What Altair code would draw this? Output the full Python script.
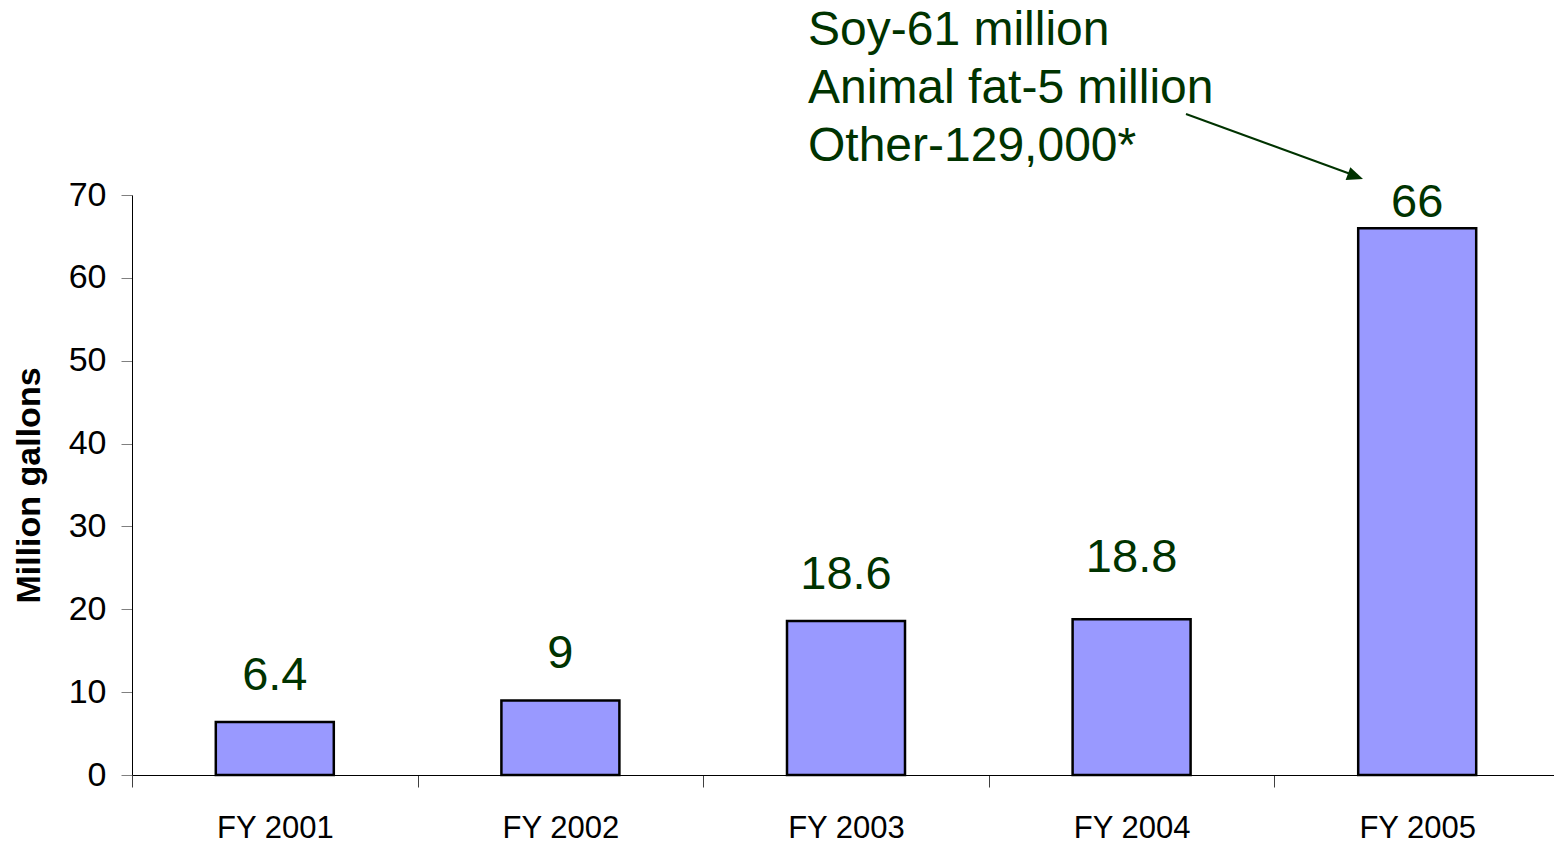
import altair as alt
import pandas as pd

years = ["FY 2001", "FY 2002", "FY 2003", "FY 2004", "FY 2005"]
gallons = [6.4, 9, 18.6, 18.8, 66]
value_labels = ["6.4", "9", "18.6", "18.8", "66"]
y_ticks = [0, 10, 20, 30, 40, 50, 60, 70]
note_lines = ["Soy-61 million", "Animal fat-5 million", "Other-129,000*"]

df = pd.DataFrame({"year": years, "gallons": gallons, "label": value_labels})

GREEN = "#003300"
FONT = "Liberation Sans"

x_enc = alt.X(
    "year:N",
    sort=years,
    scale=alt.Scale(range=[0, 1428], paddingInner=0, paddingOuter=0),
    axis=alt.Axis(
        title=None,
        labelFont=FONT,
        labelFontSize=31,
        labelColor="#000000",
        labelPadding=26,
        labelAngle=0,
        tickBand="extent",
        tickSize=12,
        tickColor="#404040",
        domainColor="#000000",
        grid=False,
    ),
)

y_enc = alt.Y(
    "gallons:Q",
    scale=alt.Scale(domain=[0, 70], nice=False),
    axis=alt.Axis(
        title="Million gallons",
        titleFont=FONT,
        titleFontSize=34,
        titleFontWeight="bold",
        titleColor="#000000",
        titlePadding=22,
        values=y_ticks,
        labelFont=FONT,
        labelFontSize=34,
        labelColor="#000000",
        labelPadding=15,
        tickSize=11,
        tickColor="#808080",
        domainColor="#000000",
        grid=False,
    ),
)

bars = alt.Chart(df).mark_bar(
    color="#9999FF", stroke="#000000", strokeWidth=2.5, size=118
).encode(x=x_enc, y=y_enc)


def label_layer(cond, dy):
    return alt.Chart(df).transform_filter(cond).mark_text(
        font=FONT, fontSize=47, color=GREEN, baseline="alphabetic",
        align="center", dy=dy,
    ).encode(
        x=alt.X("year:N", sort=years),
        y=alt.Y("gallons:Q"),
        text="label:N",
    )


labels_main = label_layer("datum.year != 'FY 2004' && datum.year != 'FY 2005'", -32)
labels_2004 = label_layer("datum.year == 'FY 2004'", -47)
labels_2005 = label_layer("datum.year == 'FY 2005'", -11)

one = pd.DataFrame({"k": [0]})

note = alt.Chart(one).mark_text(
    font=FONT, fontSize=48, color=GREEN, align="left", baseline="alphabetic",
    lineHeight=58,
).encode(
    x=alt.value(676), y=alt.value(-150), text=alt.value(note_lines)
)

arrow_line = alt.Chart(one).mark_rule(color=GREEN, strokeWidth=2).encode(
    x=alt.value(1054), y=alt.value(-81), x2=alt.value(1224), y2=alt.value(-19)
)

arrow_head = alt.Chart(one).mark_point(
    shape="M-1,-0.85L1,0L-1,0.85Z", filled=True, color=GREEN, opacity=1,
    size=256, angle=20,
).encode(x=alt.value(1223.5), y=alt.value(-18.7))

chart = alt.layer(
    bars, labels_main, labels_2004, labels_2005, note, arrow_line, arrow_head
).properties(
    width=1422,
    height=580,
    autosize=alt.AutoSizeParams(type="none"),
    padding={"left": 132, "top": 195, "right": 0, "bottom": 74},
).configure(background="white").configure_view(stroke=None, strokeWidth=0)

chart.save("out.html", embed_options={"renderer": "svg", "actions": False})
